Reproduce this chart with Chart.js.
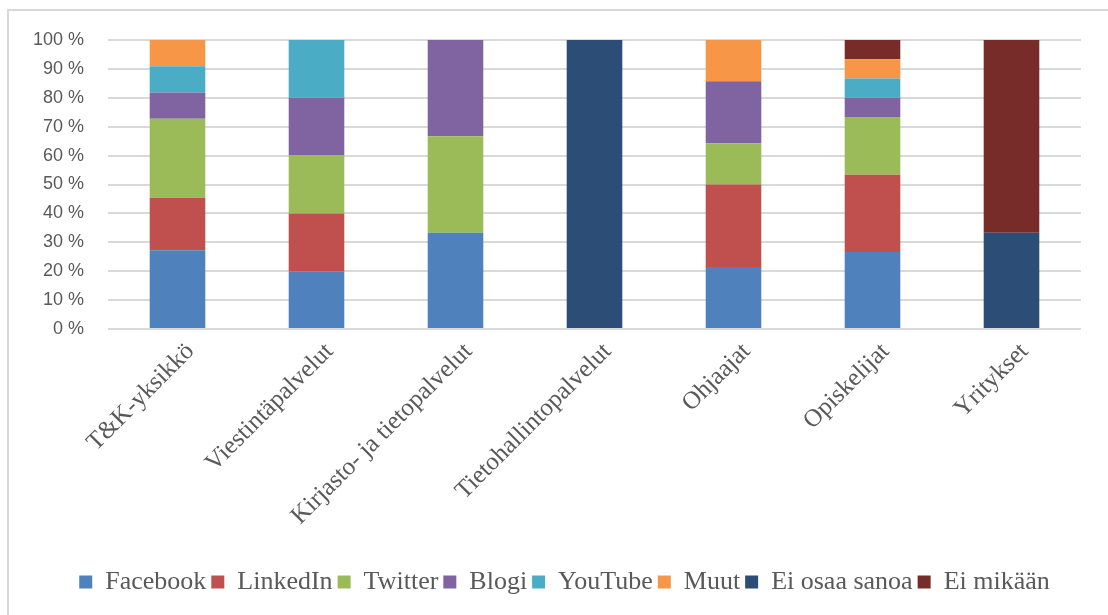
<!DOCTYPE html>
<html><head><meta charset="utf-8">
<script src="https://cdn.jsdelivr.net/npm/chart.js@4"></script>
<style>
html,body{margin:0;padding:0;background:#fff;}
#wrap{position:relative;width:1108px;height:615px;overflow:hidden;}
#frame{position:absolute;left:7px;top:9px;width:1120px;height:640px;border-left:2px solid #d9d9d9;border-top:2px solid #d9d9d9;}
#c{position:absolute;left:0;top:0;}
</style></head>
<body>
<div id="wrap"><div id="frame"></div><canvas id="c" width="1108" height="615"></canvas></div>
<script>
'use strict';
const categories=['T&K-yksikkö','Viestintäpalvelut','Kirjasto- ja tietopalvelut','Tietohallintopalvelut','Ohjaajat','Opiskelijat','Yritykset'];
const facebook=[27.27,20,33.33,0,21.43,26.67,0];
const linkedin=[18.18,20,0,0,28.57,26.67,0];
const twitter=[27.27,20,33.33,0,14.29,20,0];
const blogi=[9.09,20,33.33,0,21.43,6.67,0];
const youtube=[9.09,20,0,0,0,6.67,0];
const muut=[9.09,0,0,0,14.29,6.67,0];
const eiOsaaSanoa=[0,0,0,100,0,0,33.33];
const eiMikaan=[0,0,0,0,0,6.67,66.67];
const yTicks=[0,10,20,30,40,50,60,70,80,90,100];

const series=[
  ['Facebook',facebook,'#4f81bd'],
  ['LinkedIn',linkedin,'#c0504d'],
  ['Twitter',twitter,'#9bbb59'],
  ['Blogi',blogi,'#8064a2'],
  ['YouTube',youtube,'#4bacc6'],
  ['Muut',muut,'#f79646'],
  ['Ei osaa sanoa',eiOsaaSanoa,'#2c4d75'],
  ['Ei mikään',eiMikaan,'#772c2a']
];
const serif="'Liberation Serif','DejaVu Serif',serif";
const sans="'Liberation Sans',Arial,sans-serif";

// nudge the legend right so it sits centred under the plot like the original
const legendShift={id:'legendShift',afterLayout(ch){const l=ch.legend;if(l){l.left+=24;l.right+=24;}}};

new Chart(document.getElementById('c'),{
  type:'bar',
  data:{labels:categories,datasets:series.map(([n,d,c])=>({label:n,data:d,backgroundColor:c,borderWidth:0,barPercentage:0.4,categoryPercentage:1}))},
  options:{
    responsive:false,animation:false,
    layout:{padding:{top:40,right:27,bottom:10,left:0}},
    plugins:{
      tooltip:{enabled:false},
      legend:{position:'bottom',labels:{font:{family:serif,size:26},color:'#595959',boxWidth:13,boxHeight:13,padding:5}}
    },
    scales:{
      x:{stacked:true,grid:{display:false},border:{display:false},
        ticks:{color:'#595959',font:{family:serif,size:25},minRotation:45,maxRotation:45,autoSkip:false,labelOffset:13,padding:0},
        afterFit:s=>{s.height=235;}},
      y:{stacked:true,min:0,max:100,border:{display:false},
        grid:{color:'#d9d9d9',lineWidth:2,drawTicks:false},
        afterBuildTicks:s=>{s.ticks=yTicks.map(v=>({value:v}));},
        ticks:{color:'#595959',font:{family:sans,size:18},padding:24,callback:v=>v+' %'},
        afterFit:s=>{s.width=108;}}
    }
  },
  plugins:[legendShift]
});
</script>
</body></html>
